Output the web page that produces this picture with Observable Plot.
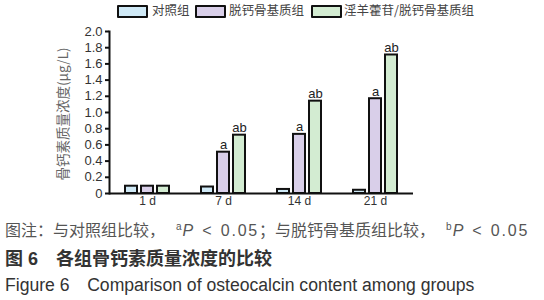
<!DOCTYPE html>
<html>
<head>
<meta charset="utf-8">
<script src="https://cdn.jsdelivr.net/npm/d3@7"></script>
<script src="https://cdn.jsdelivr.net/npm/@observablehq/plot@0.6"></script>
<style>
  html, body { margin: 0; padding: 0; background: #fff; }
  body { width: 544px; height: 300px; position: relative; overflow: hidden;
         font-family: "Liberation Sans", Arial, "Noto Sans CJK SC", sans-serif; }
  #legend { position: absolute; left: 0; top: 0; width: 544px; height: 22px; }
  .sw { position: absolute; top: 5px; width: 27px; height: 9px; border: 2px solid #111; border-radius: 1px; }
  .lt { position: absolute; top: 3px; font-size: 12.5px; line-height: 14px; color: #444;
        font-family: "Noto Sans CJK SC", sans-serif; white-space: nowrap; }
  #chart { position: absolute; left: 0; top: 22px; }
  .cap { position: absolute; left: 5px; white-space: nowrap; }
  .cjk { font-family: "Noto Sans CJK SC", sans-serif; }
  #c1 { top: 219px; font-size: 16px; line-height: 20px; color: #555; }
  #c1 .en { letter-spacing: 1.8px; word-spacing: 1px; }
  #c1 sup { font-size: 10px; vertical-align: 6px; line-height: 0; margin-left: 11px; margin-right: 1px; }
  #c2 { top: 247px; font-size: 18px; line-height: 20px; color: #333; font-weight: bold; }
  #c2 .num { font-family: "Liberation Sans", Arial, sans-serif; }
  #c3 { top: 275px; font-size: 17.6px; line-height: 20px; color: #333; }
</style>
</head>
<body>
<div id="legend"></div>
<div id="chart"></div>
<div class="cap" id="c1"><span class="cjk">图注：与对照组比较，</span><sup>a</sup><span class="en"><i>P</i> &lt; 0.05</span><span class="cjk">；与脱钙骨基质组比较，</span><sup>b</sup><span class="en"><i>P</i> &lt; 0.05</span></div>
<div class="cap" id="c2"><span class="cjk">图</span><span class="num"> 6</span><span class="cjk">　各组骨钙素质量浓度的比较</span></div>
<div class="cap" id="c3">Figure 6　Comparison of osteocalcin content among groups</div>
<script>
// ---- data ----
const days = ["1 d", "7 d", "14 d", "21 d"];
const groups = ["对照组", "脱钙骨基质组", "淫羊藿苷/脱钙骨基质组"];
const colors = ["#cfe9f6", "#d9cfe9", "#d3ecd2"];
const control = [0.09, 0.08, 0.05, 0.04];
const dbm = [0.09, 0.51, 0.73, 1.17];
const icariin = [0.09, 0.72, 1.14, 1.71];
const dbmSig = ["", "a", "a", "a"];
const icariinSig = ["", "ab", "ab", "ab"];
const yTicks = [0, 0.2, 0.4, 0.6, 0.8, 1.0, 1.2, 1.4, 1.6, 1.8, 2.0];
const yLabel = "骨钙素质量浓度(μg/L)";

const series = [control, dbm, icariin];
const sigs = [["", "", "", ""], dbmSig, icariinSig];
const data = days.flatMap((d, i) => groups.map((g, j) => ({
  day: d, group: g, value: series[j][i], sig: sigs[j][i]
})));

// ---- legend ----
const legend = document.getElementById("legend");
const swX = [117, 195, 311], txX = [152, 229, 344];
groups.forEach((g, i) => {
  const s = document.createElement("div");
  s.className = "sw"; s.style.left = swX[i] + "px"; s.style.background = colors[i];
  legend.appendChild(s);
  const t = document.createElement("div");
  t.className = "lt"; t.style.left = txX[i] + "px"; t.textContent = g;
  legend.appendChild(t);
});

// ---- chart ----
const hasAxisMarks = typeof Plot.axisY === "function";
const fmt = d => d === 0 ? "0" : d.toFixed(1);
const marks = [
  Plot.barY(data, {fx: "day", x: "group", y: "value", fill: "group", stroke: "#111", strokeWidth: 2}),
  Plot.text(data, {fx: "day", x: "group", y: "value", text: "sig", dy: -3, lineAnchor: "bottom",
                   fontSize: 13, fill: "#222", fontFamily: "Liberation Sans, Arial, sans-serif"}),
  Plot.text(days, {fx: d => d, text: d => d, frameAnchor: "bottom", lineAnchor: "top", dy: 3,
                   fontSize: 12, fill: "#333"}),
  Plot.ruleY([0], {stroke: "#111", strokeWidth: 2})
];
if (hasAxisMarks) {
  marks.push(Plot.axisY({ticks: yTicks, tickFormat: fmt, tickSize: 4, tickPadding: 3, strokeWidth: 2, stroke: "#111",
                         fontSize: 13, fill: "#333", label: null}));
  marks.push(Plot.frame({anchor: "left", facetAnchor: "left", stroke: "#111", strokeWidth: 2}));
}
const chart = Plot.plot({
  width: 544, height: 190,
  marginLeft: 108, marginRight: 131, marginTop: 9, marginBottom: 19,
  style: {fontFamily: "Liberation Sans, Arial, sans-serif", fontSize: "13px", color: "#333", background: "white", overflow: "visible"},
  fx: {domain: days, padding: 0, label: null, axis: null},
  x: {domain: groups, axis: null, paddingInner: 0.235, paddingOuter: 0.853},
  y: {domain: [0, 2], ...(hasAxisMarks ? {axis: null} : {ticks: yTicks, tickFormat: fmt, tickSize: 4, line: true, label: null})},
  color: {domain: groups, range: colors},
  marks
});
document.getElementById("chart").appendChild(chart);

// y-axis title as real text in the svg
const svgNS = "http://www.w3.org/2000/svg";
const t = document.createElementNS(svgNS, "text");
t.setAttribute("transform", "translate(64,92) rotate(-90)");
t.setAttribute("text-anchor", "middle");
t.setAttribute("dominant-baseline", "middle");
t.setAttribute("font-family", "Noto Sans CJK SC, sans-serif");
t.setAttribute("font-size", "13.5");
t.setAttribute("fill", "#666");
t.textContent = yLabel;
chart.appendChild(t);
</script>
</body>
</html>
